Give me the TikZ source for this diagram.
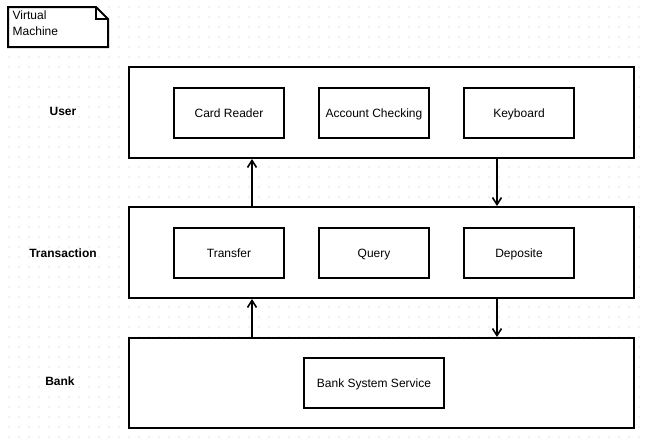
\documentclass[tikz,border=0pt]{standalone}
\usepackage{fontspec}
\setmainfont{Liberation Sans}
\usetikzlibrary{arrows.meta, positioning, calc}

\begin{document}
\begin{tikzpicture}[
    x=1pt, y=-1pt,
    node distance=33pt,
    layer/.style={
        rectangle, draw=black, line width=2pt,
        minimum width=505pt, minimum height=91pt,
        fill=white, inner sep=0pt},
    comp/.style={
        rectangle, draw=black, line width=2pt,
        minimum width=110pt, minimum height=50pt,
        text height=10pt, text depth=0.6pt,
        fill=white, font=\fontsize{12}{14}\selectfont},
    tag/.style={font=\fontsize{12}{14}\selectfont\bfseries,
        text height=9pt, text depth=1pt},
    arr/.style={-{Straight Barb[length=7pt,width=9pt,line width=1.6pt]}, line width=2pt}]

\useasboundingbox (0,0) rectangle (645,440);

% Dotted background grid
\foreach \x in {9,19,...,639}
    \foreach \y in {7,17,...,437}
        \fill[black!22] (\x,\y) circle (0.55pt);

% Note in the corner
\draw[line width=2pt, fill=white, line join=miter]
    (8,7) -- (96,7) -- (108,19) -- (108,47) -- (8,47) -- cycle;
\draw[line width=2pt, line join=miter] (96,7) -- (96,19) -- (108,19);
\node[anchor=base west, align=left, inner sep=0pt,
      font=\fontsize{12}{15.5}\selectfont] (vm) at (12.5,35) {Virtual\\Machine};

% Layers
\node[layer]                       (user)  at (381.5,112.5) {};
\node[layer]                       (trans) at (381.5,252.5) {};
\node[layer, minimum height=90pt]  (bank)  at (381.5,383)   {};

\node[tag] (userlbl)  at (63,111) {User};
\node[tag] (translbl) at (63,253) {Transaction};
\node[tag] (banklbl)  at (60,381) {Bank};

% Components
\node[comp]                 (card)    at (229,113) {Card Reader};
\node[comp, right=of card]  (account) {Account Checking};
\node[comp, right=of account] (keys)  {Keyboard};

\node[comp]                   (transfer) at (229,253) {Transfer};
\node[comp, right=of transfer] (query)   {Query};
\node[comp, right=of query]    (deposit) {Deposite};

\node[comp, minimum width=140pt] (service) at (374,383) {Bank System Service};

% Flow between layers
\draw[arr] ([xshift=-129.5pt]trans.north) -- ([xshift=-129.5pt]user.south);
\draw[arr] ([xshift=115.5pt]user.south)   -- ([xshift=115.5pt]trans.north);
\draw[arr] ([xshift=-129.5pt]bank.north)  -- ([xshift=-129.5pt]trans.south);
\draw[arr] ([xshift=115.5pt]trans.south)  -- ([xshift=115.5pt]bank.north);

\end{tikzpicture}
\end{document}
